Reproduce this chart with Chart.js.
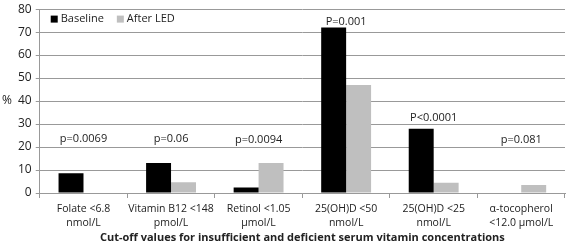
<!DOCTYPE html>
<html>
<head>
<meta charset="utf-8">
<script src="https://cdn.jsdelivr.net/npm/chart.js@4/dist/chart.umd.min.js"></script>
<style>
  html, body { margin: 0; padding: 0; background: #fff; }
  #wrap { width: 567px; height: 245px; }
</style>
</head>
<body>
<div id="wrap"><canvas id="chart"></canvas></div>
<script>
const categories = [
    ['Folate <6.8', 'nmol/L'],
    ['Vitamin B12 <148', 'pmol/L'],
    ['Retinol <1.05', 'µmol/L'],
    ['25(OH)D <50', 'nmol/L'],
    ['25(OH)D <25', 'nmol/L'],
    ['α-tocopherol', '<12.0 µmol/L']
];
const seriesNames = ['Baseline', 'After LED'];
const seriesColors = ['#000000', '#bfbfbf'];
const baseline = [8.6, 13, 2.4, 72, 28, 0];
const afterLED = [0, 4.7, 13, 47, 4.5, 3.5];
const pLabels = ['p=0.0069', 'p=0.06', 'p=0.0094', 'P=0.001', 'P<0.0001', 'p=0.081'];
const pLabelY = [23.5, 23.5, 23.3, 74.6, 32.9, 23];

const fontFamily = "'Open Sans', 'Liberation Sans', sans-serif";

// p-values, "%" label and the legend inside the plot
const annotations = {
    id: 'annotations',
    afterDatasetsDraw(chart) {
        const ctx = chart.ctx;
        const x = chart.scales.x;
        const y = chart.scales.y;
        ctx.save();
        ctx.fillStyle = '#222';
        ctx.font = '11px ' + fontFamily;
        ctx.textAlign = 'center';
        ctx.textBaseline = 'middle';
        for (let i = 0; i < pLabels.length; ++i) {
            ctx.fillText(pLabels[i], x.getPixelForValue(i), y.getPixelForValue(pLabelY[i]));
        }
        ctx.font = '12px ' + fontFamily;
        ctx.fillText('%', 7, y.getPixelForValue(40));

        // legend
        ctx.font = '11px ' + fontFamily;
        ctx.textAlign = 'left';
        let lx = chart.chartArea.left + 11;
        const ly = chart.chartArea.top + 10;
        for (let i = 0; i < seriesNames.length; ++i) {
            ctx.fillStyle = seriesColors[i];
            ctx.fillRect(lx, ly - 3.5, 7, 7);
            ctx.fillStyle = '#222';
            ctx.fillText(seriesNames[i], lx + 10, ly);
            lx += 10 + ctx.measureText(seriesNames[i]).width + 13;
        }
        ctx.restore();
    }
};

new Chart('chart', {
    type: 'bar',
    data: {
        labels: categories,
        datasets: [
            { label: seriesNames[0], data: baseline, backgroundColor: seriesColors[0], categoryPercentage: 0.57, barPercentage: 1 },
            { label: seriesNames[1], data: afterLED, backgroundColor: seriesColors[1], categoryPercentage: 0.57, barPercentage: 1 }
        ]
    },
    options: {
        responsive: true,
        maintainAspectRatio: false,
        animation: false,
        layout: { padding: { top: 0, right: 2, left: 14, bottom: 0 } },
        plugins: {
            tooltip: { enabled: false },
            legend: { display: false }
        },
        scales: {
            x: {
                afterFit(scale) { scale.height = 52; },
                grid: { offset: true, drawOnChartArea: false, tickLength: 5, color: '#999' },
                border: { color: '#999' },
                ticks: {
                    color: '#222',
                    font: { family: fontFamily, size: 10.5, lineHeight: 1.35 },
                    maxRotation: 0,
                    autoSkip: false,
                    padding: 4
                },
                title: {
                    display: true,
                    text: 'Cut-off values for insufficient and deficient serum vitamin concentrations',
                    color: '#222',
                    font: { family: fontFamily, size: 11, weight: 'bold', lineHeight: 1.2 },
                    padding: { top: 0, bottom: 1 }
                }
            },
            y: {
                min: 0,
                max: 80,
                ticks: { stepSize: 10, color: '#222', font: { family: fontFamily, size: 12, lineHeight: 0.85 }, padding: 4 },
                grid: { color: '#999', tickLength: 4 },
                border: { color: '#999' }
            }
        }
    },
    plugins: [annotations]
});
</script>
</body>
</html>
